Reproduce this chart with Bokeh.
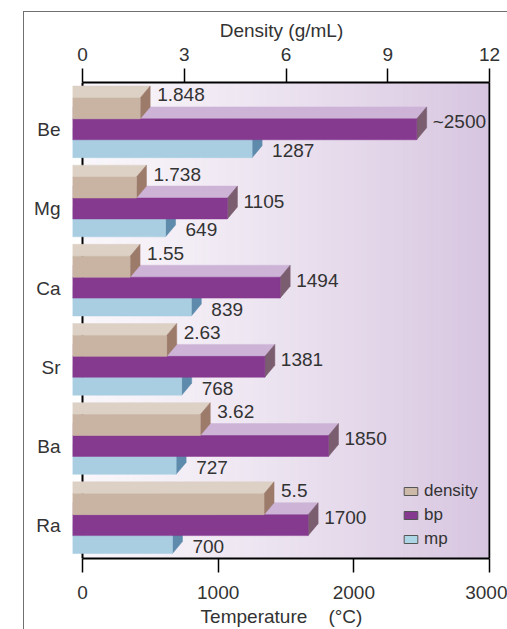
from bokeh.plotting import figure
from bokeh.models import Range1d, LinearAxis, FixedTicker, Legend, LegendItem
from bokeh.core.properties import value
from bokeh.embed import file_html
from bokeh.resources import INLINE

# ---------------- data ----------------
elements = ["Be", "Mg", "Ca", "Sr", "Ba", "Ra"]
density = [1.848, 1.738, 1.55, 2.63, 3.62, 5.5]
density_labels = ["1.848", "1.738", "1.55", "2.63", "3.62", "5.5"]
bp = [2500, 1105, 1494, 1381, 1850, 1700]
bp_labels = ["~2500", "1105", "1494", "1381", "1850", "1700"]
mp = [1287, 649, 839, 768, 727, 700]
mp_labels = ["1287", "649", "839", "768", "727", "700"]
density_ticks = [0, 3, 6, 9, 12]
temp_ticks = [0, 1000, 2000, 3000]

# ---------------- geometry helpers ----------------
T_MAX = 3000.0
D_MAX = 12.0
D_SCALE = T_MAX / D_MAX          # density -> temperature units
PXX = 407.0 / T_MAX              # px per temperature unit
GROUP_PX = 79.5                  # px per group


def X(v, px):
    return v + px / PXX


def Y(i, px):
    return i + px / GROUP_PX


x_start, x_end = X(0, -10), X(T_MAX, 1)
y_top, y_bot = Y(0, -47.5), Y(len(elements) - 1, 33)
DEPTH_X, DEPTH_Y = 5, 12

FONT = "Liberation Sans"
TXT = "#333333"
FS = "19px"

p = figure(width=507, height=629, output_backend="svg", toolbar_location=None,
           x_range=Range1d(x_start, x_end), y_range=Range1d(y_bot, y_top),
           min_border_left=72, min_border_right=17, min_border_top=82, min_border_bottom=69)
p.background_fill_color = None
p.border_fill_color = None
p.outline_line_color = None
p.grid.visible = False
p.styles = {
    "background": "linear-gradient(#707070, #707070) 23px 11px / 1px 100% no-repeat, "
                  "linear-gradient(#707070, #707070) 23px 11px / 100% 1px no-repeat, #ffffff"
}

# ---------------- axes ----------------
p.extra_x_ranges["dens"] = Range1d(x_start / D_SCALE, x_end / D_SCALE)
top_ax = LinearAxis(x_range_name="dens", ticker=FixedTicker(ticks=density_ticks),
                    bounds=(0, D_MAX), axis_label="Density (g/mL)")
p.add_layout(top_ax, "above")

for ax in p.xaxis:
    ax.axis_line_color = "black"
    ax.axis_line_width = 2
    ax.major_tick_out = 14
    ax.major_tick_in = 0
    ax.major_tick_line_color = "black"
    ax.major_tick_line_width = 1.5
    ax.minor_tick_line_color = None
    ax.major_label_text_font = FONT
    ax.major_label_text_font_size = FS
    ax.major_label_text_color = TXT
    ax.axis_label_text_font = FONT
    ax.axis_label_text_font_size = FS
    ax.axis_label_text_font_style = "normal"
    ax.axis_label_text_color = TXT

below = p.below[0]
below.ticker = FixedTicker(ticks=temp_ticks)
below.bounds = (0, T_MAX)
below.axis_label = "Temperature\u00a0\u00a0\u00a0\u00a0(\u00b0C)"
below.major_label_standoff = 13
below.axis_label_standoff = 4
top_ax.major_label_standoff = 8
top_ax.axis_label_standoff = 4

yax = p.yaxis[0]
yax.ticker = FixedTicker(ticks=list(range(len(elements))))
yax.major_label_overrides = {i: e for i, e in enumerate(elements)}
yax.axis_line_color = None
yax.major_tick_line_color = None
yax.minor_tick_line_color = None
yax.major_tick_out = 0
yax.major_label_standoff = 12
yax.major_label_text_font = FONT
yax.major_label_text_font_size = FS
yax.major_label_text_color = TXT

# ---------------- background gradient ----------------
N = 90
c0 = (249, 246, 250)
c1 = (215, 197, 224)
lefts, rights, cols = [], [], []
for k in range(N):
    t = ((k + 0.5) / N) ** 1.25
    col = "#%02x%02x%02x" % tuple(int(round(a + (b - a) * t)) for a, b in zip(c0, c1))
    lefts.append(T_MAX * k / N)
    rights.append(T_MAX * (k + 1) / N)
    cols.append(col)
p.quad(left=lefts, right=rights, top=[y_top] * N, bottom=[y_bot] * N,
       fill_color=cols, line_color=cols, line_width=1)

# left axis line (behind bars)
p.segment(x0=[0], y0=[y_top], x1=[0], y1=[y_bot], line_color="black", line_width=2)


# ---------------- 3D bars ----------------
def draw_bars(vals, top_px, bot_px, c_front, c_top, c_side):
    n = len(vals)
    idx = list(range(n))
    txs = [[x_start, X(v, -DEPTH_X), X(v, DEPTH_X), x_start] for v in vals]
    tys = [[Y(i, top_px), Y(i, top_px), Y(i, top_px - DEPTH_Y), Y(i, top_px - DEPTH_Y)] for i in idx]
    p.patches(txs, tys, fill_color=c_top, line_color=c_top, line_width=0.5)
    sxs = [[X(v, -DEPTH_X), X(v, DEPTH_X), X(v, DEPTH_X), X(v, -DEPTH_X)] for v in vals]
    sys_ = [[Y(i, top_px), Y(i, top_px - DEPTH_Y), Y(i, bot_px - DEPTH_Y), Y(i, bot_px)] for i in idx]
    p.patches(sxs, sys_, fill_color=c_side, line_color=c_side, line_width=0.5)
    p.quad(left=[x_start] * n, right=[X(v, -DEPTH_X) for v in vals],
           top=[Y(i, top_px) for i in idx], bottom=[Y(i, bot_px) for i in idx],
           fill_color=c_front, line_color=c_front, line_width=0.5)


dens_scaled = [d * D_SCALE for d in density]
draw_bars(mp, 10, 28, "#a9cee2", "#cfe4ef", "#5e8bac")
draw_bars(bp, -11, 10, "#85398f", "#cdb4d7", "#7b5d70")
draw_bars(dens_scaled, -32, -11, "#c9b4a3", "#ddd1c6", "#9d7b6b")

# right border of the box
p.segment(x0=[T_MAX], y0=[y_top], x1=[T_MAX], y1=[y_bot], line_color="black", line_width=2)


# ---------------- value labels ----------------
def labels(vals, texts, dx_px, dy_px):
    p.text(x=[X(v, DEPTH_X + dx_px) for v in vals],
           y=[Y(i, dy_px) for i in range(len(vals))], text=texts,
           text_font=value(FONT), text_font_size=FS, text_color=TXT,
           text_baseline="middle", text_align="left")


labels(dens_scaled, density_labels, 7, -35)
labels(bp, bp_labels, 6, -8)
labels(mp, mp_labels, 10, 21)

# ---------------- legend (swatch renderers lie outside the visible range) ----------------
off = -1e6
r_d = p.quad(left=[off], right=[off + 1], top=[0], bottom=[1], fill_color="#cdb9a8", line_color="#555555")
r_b = p.quad(left=[off], right=[off + 1], top=[0], bottom=[1], fill_color="#85398f", line_color="#555555")
r_m = p.quad(left=[off], right=[off + 1], top=[0], bottom=[1], fill_color="#acd6e6", line_color="#555555")
legend = Legend(items=[LegendItem(label="density", renderers=[r_d]),
                       LegendItem(label="bp", renderers=[r_b]),
                       LegendItem(label="mp", renderers=[r_m])],
                location=(330, 9), padding=0, margin=0, spacing=4,
                glyph_width=17, glyph_height=10, label_height=10, label_standoff=5,
                label_text_font=FONT, label_text_font_size="17px", label_text_color=TXT,
                border_line_color=None, background_fill_alpha=0)
p.add_layout(legend)

open("out.html", "w").write(file_html(p, INLINE))
